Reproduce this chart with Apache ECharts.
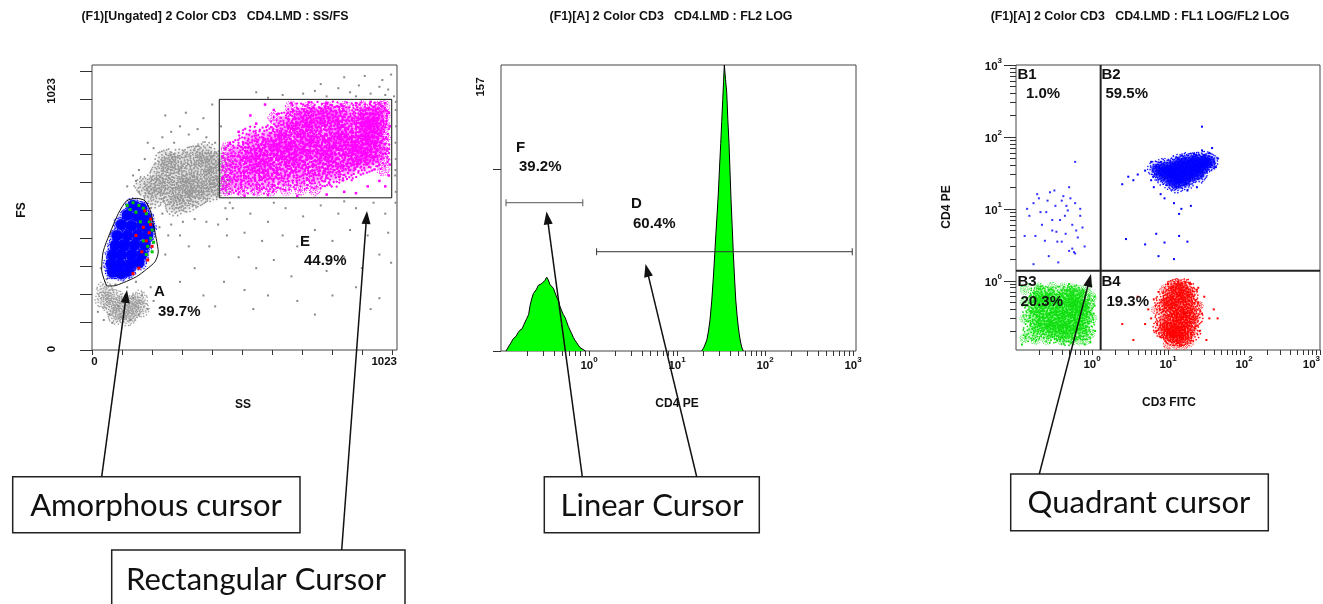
<!DOCTYPE html>
<html>
<head>
<meta charset="utf-8">
<title>Flow cytometry cursors</title>
<script src="https://cdn.jsdelivr.net/npm/echarts@6/dist/echarts.min.js"></script>
<style>
html,body{margin:0;padding:0;background:#ffffff;}
#chart{width:1323px;height:604px;}
</style>
</head>
<body>
<div id="chart"></div>
<script>
// ---------------- Panel 1 : SS / FS (linear channels 0..1023) ----------------
const ssTicks = [0,102.3,204.6,306.9,409.2,511.5,613.8,716.1,818.4,920.7,1023];
const fsTicks = [0,102.3,204.6,306.9,409.2,511.5,613.8,716.1,818.4,920.7,1023];
const ssfsTickLabels = ['0','1023'];
const gateA = [[50,235],[33,293],[38,360],[61,428],[90,501],[118,547],[152,556],[181,547],[200,507],[211,452],[221,397],[226,360],[215,324],[186,296],[152,269],[107,247],[73,235],[50,235]];
const gateE = [[434,558],[1022,558],[1022,919],[434,919],[434,558]];
const ssfsGateNames = ['A','E'];
const ssfsGatePercents = ['39.7%','44.9%'];
const ssfsGrayCore = [[270,570],[310,585],[350,600],[390,620],[420,640],[290,630],[330,650],[370,670],[400,690],[250,610],[280,530],[320,540],[360,560],[400,580],[300,700],[345,715],[230,650],[215,600],[270,680],[385,725],[430,600],[330,610],[250,700],[210,560],[180,600],[430,690]];
const ssfsGrayLow = [[45,220],[75,195],[105,175],[135,170],[160,185],[65,160],[100,140],[135,140],[40,185],[120,120],[80,125],[165,150]];
const ssfsGrayDots = [[180,700],[210,740],[240,780],[270,800],[300,820],[330,790],[360,810],[390,780],[420,760],[450,740],[200,470],[230,450],[270,460],[310,470],[350,480],[390,470],[430,460],[460,480],[470,540],[470,620],[480,690],[250,860],[320,870],[380,850],[410,900],[150,620],[120,600],[160,660],[200,520],[240,500],[160,580],[140,640],[190,760],[280,760],[440,820],[470,580],[455,520],
[720,940],[760,950],[800,930],[840,960],[880,945],[910,970],[950,940],[980,965],[1010,955],[1030,930],[860,1000],[930,1005],[990,990],[1020,1010],[650,935],[600,925],[560,945],[780,975],[900,930],[1000,935],
[1036,880],[1037,820],[1035,760],[1036,700],[1034,640],[1036,580],[1035,540],[1036,910],[1035,660],
[480,520],[540,500],[600,470],[660,520],[720,490],[780,530],[840,500],[900,520],[960,540],[1000,500],[520,430],[580,400],[650,420],[700,380],[760,440],[820,400],[880,440],[940,420],[1010,430],[500,340],[560,300],[620,330],[680,270],[740,320],[800,290],[860,340],[920,300],[980,350],[1020,320],[450,250],[520,220],[600,200],[700,180],[820,200],[900,230],[980,190],[400,380],[350,300],[300,250],[250,350],[420,160],[550,150],[760,130],[950,150],[380,200],[300,420],[260,420],[330,380],[460,420],[620,540],[860,545],
[20,140],[40,110],[70,100],[100,120],[130,110],[160,130],[190,150],[210,180],[200,230],[50,260],[30,300],[80,240],[120,230],[150,250],[170,200],[140,190],[90,160],[60,130]];
const ssfsMagentaCore = [[490,620],[490,670],[490,720],[545,620],[545,670],[545,720],[545,770],[600,625],[600,675],[600,725],[600,775],[655,630],[655,680],[655,730],[655,780],[655,830],[710,635],[710,685],[710,735],[710,785],[710,835],[710,860],[765,640],[765,690],[765,740],[765,790],[765,840],[765,862],[820,650],[820,700],[820,750],[820,800],[820,850],[820,862],[875,670],[875,710],[875,760],[875,810],[875,855],[930,690],[930,725],[930,775],[930,825],[930,860],[968,710],[968,750],[968,800],[968,850],[968,862],[570,700],[630,750],[690,710],[740,770],[800,720],[850,780],[900,740],[950,800]];
const ssfsMagentaEdge = [[680,890],[740,890],[800,890],[860,890],[920,890],[980,890],[995,660],[995,700],[995,740],[995,780],[995,820],[995,860],[995,892],[460,588],[510,588],[560,588],[610,588],[660,588],[710,588],[760,588],[460,620],[460,660],[460,700],[460,740],[620,850]];
const ssfsMagentaDots = [[900,905],[950,910],[1000,905],[850,900],[800,905],[1012,870],[1015,820],[445,590],[445,630],[448,670],[445,710],[470,760],[500,800],[600,568],[700,565],[800,570],[900,575],[1000,600],[520,565],[1012,640],[1015,680],[560,830],[620,880],[680,905],[740,908],[860,580],[940,600],[980,620],[540,860],[590,900]];
const ssfsBlueCore = [[140,530],[170,520],[120,495],[155,490],[185,485],[100,460],[135,455],[170,455],[195,450],[85,420],[120,420],[155,420],[190,420],[80,385],[110,385],[145,385],[180,385],[70,350],[100,350],[135,350],[170,350],[65,315],[95,315],[130,315],[160,320],[70,285],[100,280],[125,290]];
const ssfsGreenDots = [[140,540],[160,530],[175,520],[130,515],[185,500],[150,505],[195,470],[205,440],[200,410],[190,380],[210,395],[175,400],[165,470],[120,530],[185,350],[205,360]];
const ssfsRedDots = [[180,510],[200,480],[195,430],[185,400],[205,380],[170,360],[150,420],[190,330],[160,300],[140,280],[200,460],[175,450]];

// ---------------- Panel 2 : FL2 LOG histogram ----------------
const fl2LowX = [0.114,0.121,0.130,0.138,0.148,0.156,0.164,0.173,0.182,0.196,0.206,0.214,0.223,0.233,0.243,0.254,0.265,0.277,0.290,0.303,0.316,0.331,0.345,0.360,0.377,0.394,0.411,0.430,0.449,0.468,0.490,0.511,0.534,0.558,0.582,0.608,0.636,0.663,0.693,0.725,0.756,0.790,0.832,0.877,0.912];
const fl2LowCounts = [0,2.2,4.5,6.8,8,10,11.4,12,14.5,17.8,20,25,28.5,31.5,32,34,36,35,37,36.5,38.8,40.5,39,36.5,35.5,34.4,32,29.5,27.8,24.5,22,20,18.5,16,13.5,11.5,9.5,7.5,5.9,4.5,3.2,1.9,1.2,0.5,0];
const fl2HighX = [19.1,20.3,21.8,22.8,23.7,24.8,25.9,26.8,27.7,28.6,29.5,30.4,31.4,32.2,33.1,33.8,34.5,35.6,36.7,37.8,39.0,40.0,41.1,42.4,43.6,45.0,46.5,48.1,49.7,51.3,53.0,54.8,56.6];
const fl2HighCounts = [0,2.2,6,11,17,27.5,40.6,52.7,64.8,75.8,86.7,100.5,114,126,138,148,157,149,142,127,114,99,83,68,54,40.6,28,19.8,13.2,8.2,4.4,1.6,0];
const fl2CountTicks = [0,100];
const fl2CountLabel = '157';
const cursorF = [[0.114,81.4],[0.85,81.4]];
const cursorD = [[1.22,54.5],[980,54.5]];
const fl2GateNames = ['F','D'];
const fl2GatePercents = ['39.2%','60.4%'];

// ---------------- Panel 3 : FL1 LOG / FL2 LOG ----------------
const logTicks = [0.2,0.3,0.4,0.5,0.6,0.7,0.8,0.9,1,2,3,4,5,6,7,8,9,10,20,30,40,50,60,70,80,90,100,200,300,400,500,600,700,800,900,1000];
const logDecades = [1,10,100,1000];
const logMinorTicks = [0.2,0.3,0.4,0.5,0.6,0.7,0.8,0.9,2,3,4,5,6,7,8,9,20,30,40,50,60,70,80,90,200,300,400,500,600,700,800,900];
const quadrantX = 1.3;
const quadrantY = 1.38;
const quadNames = ['B1','B2','B3','B4'];
const quadPercents = ['1.0%','59.5%','20.3%','19.3%'];
const b1Blue = [[0.13,4.2],[0.15,8],[0.17,12],[0.2,14],[0.22,6],[0.25,9],[0.28,17],[0.3,5],[0.33,11],[0.35,3.5],[0.38,7],[0.4,13],[0.42,15],[0.45,4.5],[0.48,9.5],[0.5,20],[0.55,6],[0.6,12],[0.65,4],[0.7,8],[0.75,5.5],[0.8,3],[0.18,4.2],[0.24,3.6],[0.27,2.2],[0.36,1.8],[0.5,2.6],[0.6,2.4],[0.7,10],[0.14,10],[0.19,16],[0.32,18],[0.26,13],[0.44,8],[0.52,14],[0.58,2.5],[0.3,7],[0.4,3.5],[0.62,5],[0.21,9],[0.6,45],[0.55,2.8],[0.34,4.8],[0.17,1.7],[0.46,11]];
const b2BlueCore = [[9,28],[10,35],[11,24],[12,30],[12,40],[14,26],[14,34],[14,44],[16,30],[16,38],[17,46],[19,28],[19,35],[20,42],[22,32],[22,48],[25,36],[25,44],[28,40],[30,48],[33,42],[36,46],[11,32],[13,22],[17,24],[9,38],[26,30],[8,32],[7,36]];
const b2BlueDots = [[5,34],[4,30],[3,28],[3.5,25],[6,25],[7,38],[6.5,20],[8,16],[9,14],[12,12],[15,10],[14,8.5],[20,11],[30,56],[35,60],[40,45],[45,50],[28,65],[38,70],[28,139],[2.8,3.8],[5,3.2],[7,4.5],[9,3.4],[7.5,2.2],[12,2],[14,4.2],[18,3.5],[2.5,22],[6,45],[22,58],[15,55],[7,30],[8,45],[42,38],[18,18],[24,20]];
const b3GreenCore = [[0.17,0.2],[0.17,0.35],[0.18,0.5],[0.2,0.27],[0.21,0.42],[0.23,0.6],[0.24,0.22],[0.26,0.32],[0.28,0.5],[0.3,0.19],[0.31,0.26],[0.33,0.4],[0.35,0.6],[0.36,0.21],[0.38,0.3],[0.4,0.5],[0.44,0.37],[0.47,0.25],[0.5,0.6],[0.52,0.19],[0.55,0.45],[0.57,0.3],[0.63,0.22],[0.66,0.55],[0.7,0.35],[0.75,0.2],[0.78,0.45],[0.8,0.28],[0.45,0.18],[0.6,0.62],[0.2,0.62],[0.65,0.4]];
const b3GreenEdge = [[0.13,0.16],[0.13,0.3],[0.13,0.5],[0.13,0.75],[0.2,0.8],[0.3,0.82],[0.42,0.8],[0.55,0.78],[0.7,0.75],[0.85,0.7],[0.95,0.5],[1.0,0.3],[0.95,0.18],[0.85,0.15],[0.7,0.15],[0.55,0.15],[0.4,0.15],[0.25,0.15],[0.18,0.15],[0.9,0.4],[1.0,0.6],[0.28,0.7],[0.5,0.72]];
const b3GreenDots = [[1.05,0.35],[1.08,0.6],[0.98,0.85],[1.1,0.2],[0.12,0.85],[0.8,0.13],[0.95,0.14],[1.08,0.45],[0.12,0.13],[0.9,0.9],[0.5,0.9],[0.15,0.9]];
const b4RedCore = [[9,0.3],[10,0.2],[10,0.45],[11,0.6],[11,0.19],[12,0.35],[12,0.25],[13,0.5],[13,0.18],[14,0.3],[14,0.7],[15,0.4],[15,0.22],[16,0.17],[17,0.33],[17,0.55],[18,0.25],[20,0.4],[20,0.19],[22,0.3],[9,0.5],[8.5,0.22],[12,0.8],[16,0.8],[11,0.17],[14,0.16],[19,0.6]];
const b4RedEdge = [[10,0.13],[13,0.13],[16,0.13],[19,0.14],[12,0.88],[15,0.9],[9,0.75],[21,0.7],[7,0.4],[25,0.45]];
const b4RedDots = [[5.5,0.4],[6,0.3],[6.5,0.55],[7,0.2],[7.5,0.7],[5,0.25],[25,0.5],[28,0.35],[30,0.6],[35,0.3],[40,0.4],[45,0.3],[26,0.2],[32,0.15],[24,0.75],[20,0.9],[15,0.93],[10,0.9],[18,0.8],[2.5,0.25],[4,0.6],[3.5,0.15],[25,0.8],[17,0.95],[19,0.93]];

// ---------------- Texts ----------------
const panelTitles = ['(F1)[Ungated] 2 Color CD3   CD4.LMD : SS/FS','(F1)[A] 2 Color CD3   CD4.LMD : FL2 LOG','(F1)[A] 2 Color CD3   CD4.LMD : FL1 LOG/FL2 LOG'];
const xAxisNames = ['SS','CD4 PE','CD3 FITC'];
const yAxisNames = ['FS','CD4 PE'];
const calloutTexts = ['Amorphous cursor','Rectangular Cursor','Linear Cursor','Quadrant cursor'];

// ---------------- Styling helpers ----------------
const FONT = '"Liberation Sans", Arial, sans-serif';
const CALLFONT = 'Lato, "Open Sans", sans-serif';
const L = Math.log10;
const F2MIN = 0.1, F2MAX = 1081, F3XMIN = 0.1, F3XMAX = 1000, F3YMIN = 0.109, F3YMAX = 1000;
const zip = (xs, ys) => xs.map((x, i) => [x, ys[i]]);

// speckle stamp: a symbol shape made of tiny squares (texture only)
const specklePoints = [[11,0.5],[6,1.5],[15,1.5],[3,4],[9,3.5],[13,4.5],[18,3.5],[20,7],[1,8],[5,6.5],[11,7],[16,7.5],[7,9.5],[14,10],[19,11],[22,12],[2,12],[9,12.5],[12,11],[4,15],[16,14],[20,16],[11,16],[7,17.5],[14,18],[18,19.5],[3,19],[10,21],[14,22],[6,22],[1,15.5],[17,11.5],[8,5],[12,14],[5,10.5],[21,9],[15,20.5],[9,19],[13,8],[3,17],[19,5],[16,17],[10,9],[6,14],[12,19.5],[23,14],[0.5,10]];
const speckleSymbol = 'path://' + specklePoints.map(p => 'M' + p[0] + ' ' + p[1] + 'h1.7v1.7h-1.7Z').join(' ');

const supRich = {
  b: {fontSize: 11.5, fontWeight: 'bold', fontFamily: FONT, color: '#111', lineHeight: 16, verticalAlign: 'bottom'},
  s: {fontSize: 8, fontWeight: 'bold', fontFamily: FONT, color: '#111', lineHeight: 16, verticalAlign: 'top'}
};
const supFmt = v => '{b|10}{s|' + Math.round(v) + '}';
const tickLine = {color: '#333', width: 1};
const noLine = {show: false, onZero: false};

function scat(data, xi, yi, color, size, opacity, symbol) {
  return {type: 'scatter', xAxisIndex: xi, yAxisIndex: yi, data: data, symbol: symbol || 'circle',
    symbolSize: size, itemStyle: {color: color, opacity: opacity}, silent: true, z: 2};
}
function haze(data, xi, yi, color, size, opacity, blur) {
  return {type: 'scatter', xAxisIndex: xi, yAxisIndex: yi, data: data, symbol: 'circle', symbolSize: size,
    itemStyle: {color: color, opacity: opacity, shadowBlur: blur, shadowColor: color}, silent: true, z: 1};
}
function speckle(data, xi, yi, color, size, opacity) {
  return {type: 'scatter', xAxisIndex: xi, yAxisIndex: yi, symbol: speckleSymbol, symbolSize: size,
    data: data.map((d, i) => ({value: d, symbolRotate: (i * 53) % 360})),
    itemStyle: {color: color, opacity: opacity || 1}, silent: true, z: 2};
}
function poly(data, xi, yi, color, width, smooth, z) {
  return {type: 'line', xAxisIndex: xi, yAxisIndex: yi, data: data, symbol: 'none', smooth: smooth || false,
    lineStyle: {color: color, width: width}, silent: true, z: z || 5};
}

const series = [
  // panel 1
  haze(ssfsGrayLow, 0, 0, '#a0a0a0', 12, 0.12, 6),
  haze(ssfsGrayCore, 0, 0, '#a0a0a0', 16, 0.16, 8),
  speckle(ssfsGrayLow, 0, 0, '#9a9a9a', 18),
  speckle(ssfsGrayCore, 0, 0, '#959595', 22),
  scat(ssfsGrayDots, 0, 0, '#888888', 2, 1, 'rect'),
  haze(ssfsMagentaCore, 0, 0, '#ff00ff', 16, 0.22, 6),
  speckle(ssfsMagentaCore, 0, 0, '#ff00ff', 28),
  speckle(ssfsMagentaEdge, 0, 0, '#ff00ff', 13),
  scat(ssfsMagentaDots, 0, 0, '#ff00ff', 2.5, 1, 'rect'),
  haze(ssfsBlueCore, 0, 0, '#0000ff', 11, 0.9, 3),
  speckle(ssfsBlueCore, 0, 0, '#0000ff', 16),
  scat(ssfsGreenDots, 0, 0, '#00c800', 3, 1, 'rect'),
  scat(ssfsRedDots, 0, 0, '#ff0000', 3, 1, 'rect'),
  poly(gateE, 0, 0, '#111', 1),
  poly(gateA, 0, 0, '#111', 1, 0.25),
  // panel 2
  {type: 'line', xAxisIndex: 1, yAxisIndex: 1, data: zip(fl2LowX, fl2LowCounts), symbol: 'none',
    lineStyle: {color: '#000', width: 1}, areaStyle: {color: '#00ff00', opacity: 1}, silent: true, z: 3},
  {type: 'line', xAxisIndex: 1, yAxisIndex: 1, data: zip(fl2HighX, fl2HighCounts), symbol: 'none',
    lineStyle: {color: '#000', width: 1}, areaStyle: {color: '#00ff00', opacity: 1}, silent: true, z: 3},
  {type: 'line', xAxisIndex: 1, yAxisIndex: 1, data: cursorF, symbol: 'rect', symbolSize: [1, 7], showSymbol: true,
    lineStyle: {color: '#555', width: 1}, itemStyle: {color: '#555'}, silent: true, z: 5},
  {type: 'line', xAxisIndex: 1, yAxisIndex: 1, data: cursorD, symbol: 'rect', symbolSize: [1, 7], showSymbol: true,
    lineStyle: {color: '#333', width: 1}, itemStyle: {color: '#333'}, silent: true, z: 5},
  // panel 3
  scat(b1Blue, 3, 2, '#3030ff', 2, 1, 'rect'),
  scat(b2BlueDots, 3, 2, '#0000ff', 2, 1, 'rect'),
  haze(b2BlueCore, 3, 2, '#0000ff', 10, 0.5, 5),
  speckle(b2BlueCore, 3, 2, '#0000ff', 18),
  haze(b3GreenCore, 3, 2, '#00ff00', 12, 0.22, 6),
  speckle(b3GreenCore, 3, 2, '#11dd11', 22),
  speckle(b3GreenEdge, 3, 2, '#11dd11', 10),
  scat(b3GreenDots, 3, 2, '#11dd11', 2, 1, 'rect'),
  haze(b4RedCore, 3, 2, '#ff0000', 10, 0.3, 6),
  speckle(b4RedCore, 3, 2, '#ff0000', 20),
  speckle(b4RedEdge, 3, 2, '#ff0000', 10),
  scat(b4RedDots, 3, 2, '#ff0000', 2, 1, 'rect'),
  poly([[quadrantX, F3YMIN], [quadrantX, F3YMAX]], 3, 2, '#222', 2),
  poly([[F3XMIN, quadrantY], [F3XMAX, quadrantY]], 3, 2, '#222', 2)
];

const xAxis = [
  {gridIndex: 0, type: 'value', min: 0, max: 1040, position: 'bottom', axisLine: noLine, splitLine: {show: false},
    axisTick: {show: true, length: 5, customValues: ssTicks, lineStyle: tickLine}, axisLabel: {show: false}},
  {gridIndex: 1, type: 'log', logBase: 10, min: F2MIN, max: F2MAX, show: false, axisLine: noLine, splitLine: {show: false}},
  {gridIndex: 1, type: 'value', min: L(F2MIN), max: L(F2MAX), position: 'bottom', axisLine: noLine, splitLine: {show: false},
    axisTick: {show: true, length: 5, customValues: logTicks.filter(v => v <= F2MAX).map(L), lineStyle: tickLine},
    axisLabel: {show: true, customValues: logDecades.map(L), formatter: supFmt, rich: supRich, margin: 5}},
  {gridIndex: 2, type: 'log', logBase: 10, min: F3XMIN, max: F3XMAX, show: false, axisLine: noLine, splitLine: {show: false}},
  {gridIndex: 2, type: 'value', min: L(F3XMIN), max: L(F3XMAX), position: 'bottom', axisLine: noLine, splitLine: {show: false},
    axisTick: {show: true, length: 5, customValues: logTicks.map(L), lineStyle: tickLine},
    axisLabel: {show: true, customValues: logDecades.map(L), formatter: supFmt, rich: supRich, margin: 5, alignMaxLabel: 'right'}}
];
const yAxis = [
  {gridIndex: 0, type: 'value', min: 0, max: 1045, position: 'left', axisLine: noLine, splitLine: {show: false},
    axisTick: {show: true, length: 12, customValues: fsTicks, lineStyle: tickLine}, axisLabel: {show: false}},
  {gridIndex: 1, type: 'value', min: 0, max: 157, position: 'left', axisLine: noLine, splitLine: {show: false},
    axisTick: {show: true, length: 8, customValues: fl2CountTicks, lineStyle: tickLine}, axisLabel: {show: false}},
  {gridIndex: 2, type: 'log', logBase: 10, min: F3YMIN, max: F3YMAX, show: false, axisLine: noLine, splitLine: {show: false}},
  {gridIndex: 2, type: 'value', min: L(F3YMIN), max: L(F3YMAX), position: 'left', axisLine: noLine, splitLine: {show: false},
    axisTick: {show: true, length: 12, customValues: logDecades.map(L), lineStyle: tickLine},
    axisLabel: {show: true, customValues: logDecades.map(L), formatter: supFmt, rich: supRich, margin: 14}},
  {gridIndex: 2, type: 'value', min: L(F3YMIN), max: L(F3YMAX), position: 'left', axisLine: noLine, splitLine: {show: false},
    axisTick: {show: true, length: 6, customValues: logMinorTicks.filter(v => v >= F3YMIN).map(L), lineStyle: tickLine},
    axisLabel: {show: false}}
];

// ---------------- graphic texts and callouts ----------------
function txt(text, x, y, size, align, rot, family, weight) {
  return {type: 'text', x: x, y: y, rotation: rot || 0, z: 100, silent: true,
    style: {text: text, fill: '#111', fontSize: size, fontWeight: weight || 'bold', fontFamily: family || FONT,
      align: align || 'center', verticalAlign: 'middle'}};
}
function arrow(x1, y1, x2, y2) {
  const dx = x2 - x1, dy = y2 - y1, len = Math.hypot(dx, dy), ux = dx / len, uy = dy / len;
  const hl = 13, hw = 4.5, bx = x2 - ux * hl, by = y2 - uy * hl;
  return [
    {type: 'line', z: 100, silent: true, shape: {x1: x1, y1: y1, x2: bx + ux * 2, y2: by + uy * 2}, style: {stroke: '#111', lineWidth: 1.5}},
    {type: 'polygon', z: 100, silent: true, shape: {points: [[x2, y2], [bx - uy * hw, by + ux * hw], [bx + uy * hw, by - ux * hw]]}, style: {fill: '#111'}}
  ];
}
function box(x, y, w, h, text, tx, ty) {
  return [
    {type: 'rect', z: 100, silent: true, shape: {x: x, y: y, width: w, height: h}, style: {fill: '#fff', stroke: '#222', lineWidth: 1.5}},
    txt(text, tx, ty, 31, 'center', 0, CALLFONT, 'normal')
  ];
}
const R = Math.PI / 2;
const graphics = [].concat(
  txt(panelTitles[0], 215, 17, 12.4), txt(panelTitles[1], 671, 17, 12.4), txt(panelTitles[2], 1140, 17, 12.4),
  txt(xAxisNames[0], 243, 405, 12), txt(xAxisNames[1], 677, 404, 12), txt(xAxisNames[2], 1169, 403, 12),
  txt(yAxisNames[0], 22, 210, 12, 'center', R), txt(yAxisNames[1], 947, 207, 12, 'center', R),
  txt(ssfsTickLabels[1], 52, 91, 11.5, 'center', R), txt(ssfsTickLabels[0], 52, 349, 11.5, 'center', R),
  txt(ssfsTickLabels[0], 94.5, 362, 11.5), txt(ssfsTickLabels[1], 397, 362, 11.5, 'right'),
  txt(fl2CountLabel, 481, 87, 11.5, 'center', R),
  txt(ssfsGateNames[0], 154, 292, 15, 'left'), txt(ssfsGatePercents[0], 158, 312, 15, 'left'),
  txt(ssfsGateNames[1], 300, 242, 15, 'left'), txt(ssfsGatePercents[1], 304, 261, 15, 'left'),
  txt(fl2GateNames[0], 516, 148, 15, 'left'), txt(fl2GatePercents[0], 519, 167, 15, 'left'),
  txt(fl2GateNames[1], 631, 204, 15, 'left'), txt(fl2GatePercents[1], 633, 224, 15, 'left'),
  txt(quadNames[0], 1017.5, 75, 15, 'left'), txt(quadPercents[0], 1026, 93.5, 15, 'left'),
  txt(quadNames[1], 1101.5, 75, 15, 'left'), txt(quadPercents[1], 1105.5, 93.5, 15, 'left'),
  txt(quadNames[2], 1017.5, 282, 15, 'left'), txt(quadPercents[2], 1020.5, 302, 15, 'left'),
  txt(quadNames[3], 1101.5, 282, 15, 'left'), txt(quadPercents[3], 1106.5, 302, 15, 'left'),
  box(12.7, 476.7, 287.3, 56, calloutTexts[0], 156, 506),
  box(111.7, 550, 293.3, 70, calloutTexts[1], 256, 580),
  box(544.3, 476.7, 215, 56, calloutTexts[2], 652, 506),
  box(1010.7, 474, 257.6, 56.7, calloutTexts[3], 1139, 503),
  arrow(101.7, 476.7, 127, 290),
  arrow(341.7, 550, 367, 211),
  arrow(582.3, 476.7, 546.5, 211.5),
  arrow(696.7, 476.7, 645.5, 264),
  arrow(1039.3, 474, 1091, 274)
);

const chart = echarts.init(document.getElementById('chart'), null, {renderer: 'canvas'});
chart.setOption({
  animation: false,
  backgroundColor: '#ffffff',
  textStyle: {fontFamily: FONT},
  grid: [
    {left: 92, top: 65, width: 305, height: 285, show: true, borderColor: '#444', borderWidth: 1, backgroundColor: 'transparent', containLabel: false},
    {left: 501, top: 65, width: 355, height: 286, show: true, borderColor: '#444', borderWidth: 1, backgroundColor: 'transparent', containLabel: false},
    {left: 1016, top: 65, width: 307, height: 285, show: true, borderColor: '#444', borderWidth: 1, backgroundColor: 'transparent', containLabel: false}
  ],
  xAxis: xAxis,
  yAxis: yAxis,
  series: series,
  graphic: graphics
});
</script>
</body>
</html>
